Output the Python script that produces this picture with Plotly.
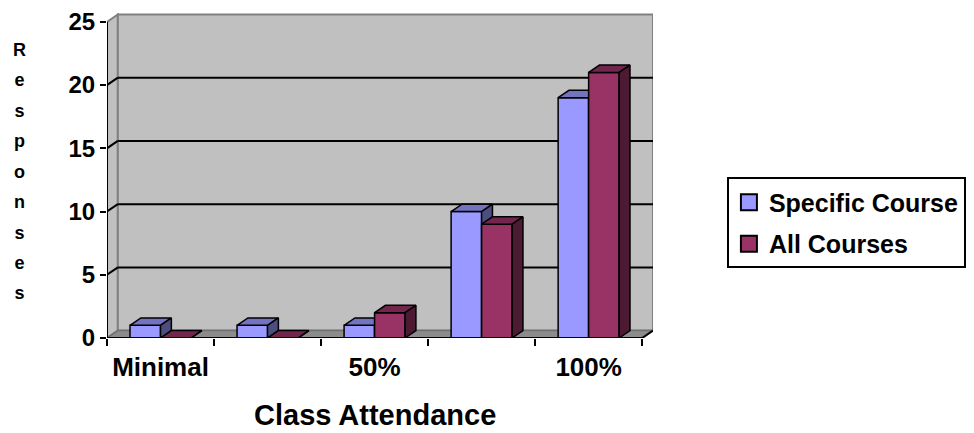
import plotly.graph_objects as go

# ---- data ----
categories = ["Minimal", "25%", "50%", "75%", "100%"]
tick_labels = ["Minimal", "", "50%", "", "100%"]
specific_course = [1, 1, 1, 10, 19]
all_courses = [0, 0, 2, 9, 21]
y_ticks = [0, 5, 10, 15, 20, 25]

# ---- style / geometry ----
FONT = "Liberation Sans, Arial, sans-serif"
DX = 11 / 108.6     # depth offset in category units
DY = 0.584          # depth offset in value units
BW = 0.285          # bar width
X_RANGE = [-0.5, len(categories) - 0.5 + DX]
Y_RANGE = [0, 25.7]

BLUE, BLUE_TOP, BLUE_SIDE = "#9999FF", "#7373BF", "#4D4D80"
RED, RED_TOP, RED_SIDE = "#993366", "#73264D", "#4D1A33"

xpos = list(range(len(categories)))


def faces(values, offset):
    tx, ty, sx, sy = [], [], [], []
    for x, v in zip(xpos, values):
        x0, x1 = x + offset, x + offset + BW
        tx += [x0, x1, x1 + DX, x0 + DX, x0, None]
        ty += [v, v, v + DY, v + DY, v, None]
        sx += [x1, x1 + DX, x1 + DX, x1, x1, None]
        sy += [0, DY, v + DY, v, 0, None]
    return tx, ty, sx, sy


fig = go.Figure()


def add_series(name, values, offset, c_front, c_top, c_side, xa, ya):
    fig.add_trace(go.Bar(
        x=xpos, y=values, width=BW, offset=offset, name=name,
        marker=dict(color=c_front, line=dict(color="black", width=1.5)),
        showlegend=False, xaxis=xa, yaxis=ya, hovertext=categories))
    tx, ty, sx, sy = faces(values, offset)
    fig.add_trace(go.Scatter(x=tx, y=ty, mode="lines", fill="toself",
                             fillcolor=c_top, line=dict(color="black", width=1.5),
                             showlegend=False, hoverinfo="skip", xaxis=xa, yaxis=ya))
    fig.add_trace(go.Scatter(x=sx, y=sy, mode="lines", fill="toself",
                             fillcolor=c_side, line=dict(color="black", width=1.5),
                             showlegend=False, hoverinfo="skip", xaxis=xa, yaxis=ya))
    # legend entry
    fig.add_trace(go.Scatter(x=[None], y=[None], mode="markers", name=name,
                             marker=dict(symbol="square", size=18, color=c_front,
                                         line=dict(color="black", width=2)),
                             xaxis=xa, yaxis=ya, legendgroup=name))


add_series("Specific Course", specific_course, -BW, BLUE, BLUE_TOP, BLUE_SIDE, "x", "y")
add_series("All Courses", all_courses, 0, RED, RED_TOP, RED_SIDE, "x2", "y2")

# ---- 3D box (walls, floor, grid) ----
xl, xr = X_RANGE[0], len(categories) - 0.5
top = y_ticks[-1]
shapes = []
# left side wall
shapes.append(dict(type="path", layer="below", xref="x", yref="y",
                   path=f"M{xl},0 L{xl+DX},{DY} L{xl+DX},{top+DY} L{xl},{top} Z",
                   fillcolor="#C0C0C0", line=dict(color="#808080", width=2)))
# back wall
shapes.append(dict(type="rect", layer="below", xref="x", yref="y",
                   x0=xl + DX, x1=xr + DX, y0=DY, y1=top + DY,
                   fillcolor="#C0C0C0", line=dict(color="#808080", width=2)))
# floor
shapes.append(dict(type="path", layer="below", xref="x", yref="y",
                   path=f"M{xl},0 L{xr},0 L{xr+DX},{DY} L{xl+DX},{DY} Z",
                   fillcolor="#8C8C8C", line=dict(color="#707070", width=1.5)))
# gridlines on back wall + slants on side wall
for v in y_ticks[1:-1]:
    shapes.append(dict(type="line", layer="below", xref="x", yref="y",
                       x0=xl + DX, x1=xr + DX, y0=v + DY, y1=v + DY,
                       line=dict(color="black", width=2)))
    shapes.append(dict(type="line", layer="below", xref="x", yref="y",
                       x0=xl, x1=xl + DX, y0=v, y1=v + DY,
                       line=dict(color="black", width=2)))
# front axes lines
shapes.append(dict(type="line", layer="above", xref="x", yref="y",
                   x0=xl, x1=xl, y0=0, y1=top, line=dict(color="black", width=2)))
shapes.append(dict(type="line", layer="above", xref="x", yref="y",
                   x0=xl, x1=xr, y0=0, y1=0, line=dict(color="black", width=2)))
shapes.append(dict(type="line", layer="above", xref="x", yref="y",
                   x0=xr, x1=xr + DX, y0=0, y1=DY, line=dict(color="black", width=2)))

bold = dict(family=FONT, color="black", weight="bold")

letters = "<br>".join(f'<span style="font-size:18px">{c}</span>' for c in "Responses")

fig.update_layout(
    width=974, height=433,
    margin=dict(l=107, r=313, t=8, b=95),
    paper_bgcolor="white", plot_bgcolor="white",
    barmode="overlay",
    shapes=shapes,
    showlegend=True,
    legend=dict(x=(736 - 107) / 554, y=(338 - 175) / 330, xanchor="left", yanchor="top",
                bordercolor="black", borderwidth=2, bgcolor="white",
                font=dict(size=25, **bold), tracegroupgap=6, itemsizing="trace"),
    xaxis=dict(range=X_RANGE, showgrid=False, zeroline=False, showline=False,
               tickmode="array", tickvals=xpos, ticktext=tick_labels, ticks="",
               ticklabelstandoff=11,
               tickfont=dict(size=26, **bold),
               minor=dict(tick0=-0.5, dtick=1, ticks="outside", ticklen=7,
                          tickwidth=2, tickcolor="black", showgrid=False)),
    yaxis=dict(range=Y_RANGE, showgrid=False, zeroline=False, showline=False,
               tickmode="array", tickvals=y_ticks, ticks="outside", ticklen=6,
               tickwidth=2, tickcolor="black", tickfont=dict(size=24, **bold)),
    xaxis2=dict(range=X_RANGE, overlaying="x", visible=False),
    yaxis2=dict(range=Y_RANGE, overlaying="y", visible=False),
    annotations=[
        dict(text="Class Attendance", xref="paper", yref="paper",
             x=(379 - 107) / 554, y=(338 - 416) / 330, xanchor="center", yanchor="middle",
             showarrow=False, font=dict(size=29, **bold)),
        dict(text=letters, xref="paper", yref="paper",
             x=(18 - 107) / 554, y=(338 - 169) / 330, xanchor="center", yanchor="middle",
             showarrow=False, font=dict(size=23.4, **bold)),
    ],
)

fig.write_html("out.html")
